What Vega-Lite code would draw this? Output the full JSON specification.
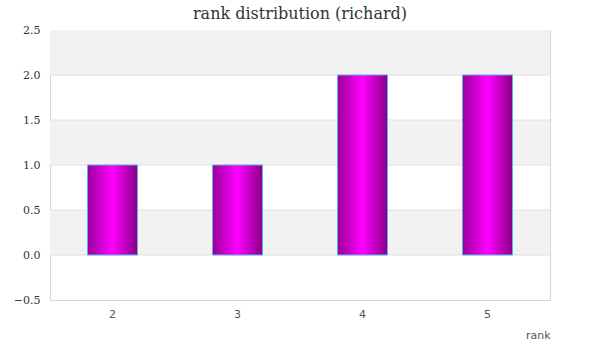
{
  "$schema": "https://vega.github.io/schema/vega-lite/v6.json",
  "autosize": "none",
  "width": 500,
  "height": 270,
  "padding": {"left": 50, "top": 30, "right": 50, "bottom": 60},
  "background": "white",
  "title": {
    "text": "rank distribution (richard)",
    "font": "DejaVu Serif",
    "fontSize": 16,
    "fontWeight": "normal",
    "color": "#333333",
    "anchor": "middle",
    "offset": 2
  },
  "config": {
    "view": {"stroke": "#d6d6d6", "strokeWidth": 1}
  },
  "datasets": {
    "ranks": [
      {"rank": "2", "count": 1},
      {"rank": "3", "count": 1},
      {"rank": "4", "count": 2},
      {"rank": "5", "count": 2}
    ],
    "bands": [
      {"from": 0.0, "to": 0.5},
      {"from": 1.0, "to": 1.5},
      {"from": 2.0, "to": 2.5}
    ],
    "grid": [
      {"level": 0.0}, {"level": 0.5}, {"level": 1.0}, {"level": 1.5}, {"level": 2.0}
    ]
  },
  "layer": [
    {
      "data": {"name": "bands"},
      "mark": {"type": "rect", "fill": "#f2f2f2"},
      "encoding": {
        "y": {"field": "from", "type": "quantitative", "scale": {"domain": [-0.5, 2.5], "nice": false, "zero": false}},
        "y2": {"field": "to"}
      }
    },
    {
      "data": {"name": "grid"},
      "mark": {"type": "rule", "stroke": "#e0e0e0", "strokeWidth": 1},
      "encoding": {
        "y": {"field": "level", "type": "quantitative"}
      }
    },
    {
      "data": {"name": "ranks"},
      "mark": {
        "type": "bar",
        "stroke": "#5cb0ea",
        "strokeWidth": 1,
        "fill": {
          "gradient": "linear",
          "x1": 0, "x2": 1, "y1": 0, "y2": 0,
          "stops": [
            {"offset": 0, "color": "#9a009a"},
            {"offset": 0.5, "color": "#ff00ff"},
            {"offset": 1, "color": "#870087"}
          ]
        }
      },
      "encoding": {
        "x": {
          "field": "rank",
          "type": "ordinal",
          "scale": {"paddingInner": 0.6, "paddingOuter": 0.3},
          "axis": {
            "title": "rank",
            "titleAnchor": "end",
            "titleAlign": "right",
            "titleFont": "DejaVu Sans",
            "titleFontSize": 11,
            "titleFontWeight": "normal",
            "titleColor": "#555555",
            "titlePadding": 10,
            "labelAngle": 0,
            "labelFont": "DejaVu Sans",
            "labelFontSize": 11,
            "labelColor": "#555555",
            "labelPadding": 8,
            "ticks": false,
            "domain": false,
            "grid": false
          }
        },
        "y": {
          "field": "count",
          "type": "quantitative",
          "scale": {"domain": [-0.5, 2.5], "nice": false, "zero": false},
          "axis": {
            "title": null,
            "values": [-0.5, 0, 0.5, 1, 1.5, 2, 2.5],
            "format": ".1f",
            "labelFont": "DejaVu Serif",
            "labelFontSize": 11,
            "labelColor": "#333333",
            "labelPadding": 10,
            "ticks": false,
            "domain": false,
            "grid": false
          }
        }
      }
    }
  ]
}
